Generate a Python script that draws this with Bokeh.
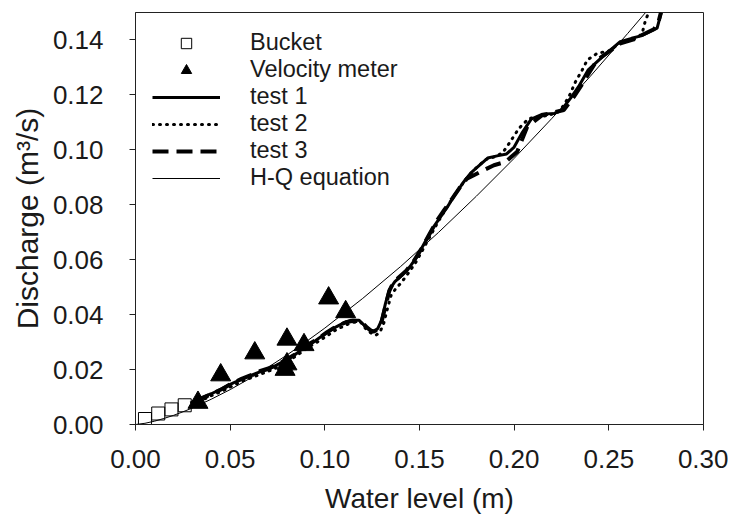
from bokeh.plotting import figure
from bokeh.models import Legend, LegendItem, FixedTicker, NumeralTickFormatter, Range1d
from bokeh.embed import file_html
from bokeh.resources import INLINE

# ---- data ----
bucket_x = [0.005, 0.012, 0.019, 0.026]
bucket_y = [0.002, 0.004, 0.0055, 0.007]

meter_x = [0.033, 0.045, 0.063, 0.080, 0.079, 0.080, 0.089, 0.102, 0.111]
meter_y = [0.008, 0.018, 0.026, 0.031, 0.020, 0.022, 0.029, 0.046, 0.041]

test1_x = [0.029, 0.034, 0.040, 0.045, 0.050, 0.055, 0.060, 0.065, 0.070, 0.075, 0.080, 0.085,
           0.090, 0.095, 0.100, 0.105, 0.110, 0.114, 0.118, 0.121, 0.124, 0.126, 0.128, 0.130,
           0.132, 0.134, 0.137, 0.141, 0.145, 0.149, 0.153, 0.157, 0.161, 0.165, 0.169, 0.173,
           0.177, 0.181, 0.186, 0.191, 0.196, 0.200, 0.204, 0.209, 0.215, 0.221, 0.225, 0.230,
           0.234, 0.239, 0.246, 0.252, 0.256, 0.262, 0.267, 0.2755, 0.2777]
test1_y = [0.0078, 0.0095, 0.0112, 0.0128, 0.0146, 0.0162, 0.0176, 0.0190, 0.0200, 0.0218, 0.0236, 0.0258,
           0.0285, 0.0305, 0.0330, 0.0352, 0.0370, 0.0380, 0.0380, 0.0360, 0.0342, 0.0337, 0.0350, 0.0380,
           0.0440, 0.0490, 0.0520, 0.0545, 0.0575, 0.0615, 0.0665, 0.0715, 0.0755, 0.0795, 0.0840, 0.0880,
           0.0915, 0.0940, 0.0970, 0.0978, 0.0985, 0.1010, 0.1060, 0.1112, 0.1130, 0.1132, 0.1145, 0.1190,
           0.1230, 0.1290, 0.1335, 0.1370, 0.1394, 0.1406, 0.1415, 0.1443, 0.1500]

test2_x = [0.030, 0.035, 0.040, 0.046, 0.051, 0.056, 0.061, 0.066, 0.071, 0.076, 0.081, 0.086,
           0.091, 0.096, 0.101, 0.106, 0.111, 0.115, 0.119, 0.122, 0.125, 0.127, 0.129, 0.131,
           0.133, 0.135, 0.138, 0.140, 0.144, 0.148, 0.152, 0.156, 0.160, 0.164, 0.168, 0.172,
           0.176, 0.180, 0.185, 0.190, 0.194, 0.197, 0.2025, 0.2077, 0.212, 0.218, 0.224, 0.2289,
           0.2324, 0.2359, 0.2386, 0.2438, 0.2509, 0.2544, 0.2579, 0.2645, 0.2676, 0.2694, 0.2711]
test2_y = [0.0072, 0.0088, 0.0105, 0.0122, 0.0140, 0.0157, 0.0170, 0.0183, 0.0196, 0.0212, 0.0232, 0.0255,
           0.0280, 0.0300, 0.0322, 0.0345, 0.0362, 0.0372, 0.0372, 0.0345, 0.0330, 0.0325, 0.0335, 0.0365,
           0.0420, 0.0470, 0.0500, 0.0513, 0.0550, 0.0590, 0.0640, 0.0690, 0.0740, 0.0785, 0.0830, 0.0870,
           0.0905, 0.0935, 0.0965, 0.0975, 0.0990, 0.1020, 0.1078, 0.1114, 0.1120, 0.1125, 0.1140, 0.1193,
           0.1248, 0.1290, 0.1327, 0.1351, 0.1362, 0.1382, 0.1394, 0.1405, 0.1424, 0.1473, 0.1500]

test3_x = [0.031, 0.036, 0.041, 0.046, 0.051, 0.056, 0.061, 0.066, 0.071, 0.076, 0.081, 0.086,
           0.091, 0.096, 0.101, 0.106, 0.111, 0.115, 0.119, 0.122, 0.125, 0.128, 0.130, 0.132,
           0.134, 0.136, 0.139, 0.143, 0.147, 0.151, 0.155, 0.159, 0.163, 0.167, 0.171, 0.175,
           0.1822, 0.1893, 0.1954, 0.2016, 0.2069, 0.2148, 0.2262, 0.2315, 0.2359, 0.2438, 0.2562,
           0.2632, 0.2667, 0.2738, 0.2760, 0.2775]
test3_y = [0.0080, 0.0098, 0.0114, 0.0130, 0.0150, 0.0166, 0.0180, 0.0195, 0.0206, 0.0222, 0.0242, 0.0262,
           0.0290, 0.0310, 0.0335, 0.0357, 0.0372, 0.0378, 0.0376, 0.0355, 0.0338, 0.0345, 0.0375, 0.0430,
           0.0485, 0.0515, 0.0535, 0.0560, 0.0595, 0.0640, 0.0690, 0.0740, 0.0780, 0.0820, 0.0860, 0.0895,
           0.0920, 0.0944, 0.0956, 0.0993, 0.1084, 0.1126, 0.1145, 0.1193, 0.1239, 0.1327, 0.1388,
           0.1402, 0.1415, 0.1439, 0.1460, 0.1500]

hq_x = [0.0, 0.005, 0.01, 0.015, 0.02, 0.025, 0.03, 0.04, 0.05, 0.06, 0.07, 0.08, 0.09, 0.10,
        0.12, 0.14, 0.16, 0.18, 0.20, 0.22, 0.24, 0.26, 0.2694]
hq_y = [0.0, 0.00044, 0.0012, 0.0022, 0.0033, 0.0046, 0.0060, 0.0092, 0.0127, 0.0166, 0.0208, 0.0253,
        0.0301, 0.0351, 0.0459, 0.0575, 0.0699, 0.0831, 0.0969, 0.1115, 0.1266, 0.1424, 0.1500]

x_ticks = [0.0, 0.05, 0.10, 0.15, 0.20, 0.25, 0.30]
y_ticks = [0.0, 0.02, 0.04, 0.06, 0.08, 0.10, 0.12, 0.14]

FONT = "Liberation Sans"

p = figure(width=728, height=517, output_backend="svg", toolbar_location=None,
           x_range=Range1d(0, 0.30), y_range=Range1d(0, 0.15),
           min_border_left=135, min_border_right=25, min_border_top=12, min_border_bottom=93)
p.background_fill_color = "white"
p.border_fill_color = "white"
p.xgrid.visible = False
p.ygrid.visible = False
p.outline_line_color = "#222222"
p.outline_line_width = 1

for ax, ticks in ((p.xaxis[0], x_ticks), (p.yaxis[0], y_ticks)):
    ax.ticker = FixedTicker(ticks=ticks)
    ax.formatter = NumeralTickFormatter(format="0.00")
    ax.major_tick_out = 6
    ax.major_tick_in = 0
    ax.minor_tick_out = 0
    ax.minor_tick_in = 0
    ax.axis_line_color = "#222222"
    ax.major_tick_line_color = "#222222"
    ax.major_label_text_font = FONT
    ax.major_label_text_font_size = "26px"
    ax.major_label_text_color = "#1a1a1a"
    ax.axis_label_text_font = FONT
    ax.axis_label_text_font_style = "normal"
    ax.axis_label_text_color = "#1a1a1a"

p.xaxis.axis_label_text_font_size = "28px"
p.yaxis.axis_label_text_font_size = "30px"
p.xaxis.major_label_standoff = 19
p.yaxis.major_label_standoff = 26
p.xaxis.axis_label_standoff = 12
p.yaxis.axis_label_standoff = 6
p.xaxis.axis_label = "Water level (m)"
p.yaxis.axis_label = "Discharge (m³/s)"

r_hq = p.line(hq_x, hq_y, line_color="black", line_width=1)
r_t1 = p.line(test1_x, test1_y, line_color="black", line_width=3, line_join="round")
r_t2 = p.line(test2_x, test2_y, line_color="black", line_width=3, line_dash="1 6", line_cap="round")
r_t3 = p.line(test3_x, test3_y, line_color="black", line_width=4, line_dash="16 8")
r_b = p.scatter(bucket_x, bucket_y, marker="square", size=13, line_color="black", line_width=1,
                fill_alpha=0)
r_m = p.scatter(meter_x, meter_y, marker="triangle", size=20, line_color="black",
                fill_color="black")

legend = Legend(items=[
    LegendItem(label="Bucket", renderers=[r_b]),
    LegendItem(label="Velocity meter", renderers=[r_m]),
    LegendItem(label="test 1", renderers=[r_t1]),
    LegendItem(label="test 2", renderers=[r_t2]),
    LegendItem(label="test 3", renderers=[r_t3]),
    LegendItem(label="H-Q equation", renderers=[r_hq]),
], location="top_left")
legend.margin = 0
legend.padding = 17
legend.spacing = 0
legend.glyph_width = 68
legend.glyph_height = 26
legend.label_height = 26
legend.label_standoff = 30
legend.label_text_font = FONT
legend.label_text_font_size = "23.5px"
legend.label_text_color = "#1a1a1a"
legend.border_line_alpha = 0
legend.background_fill_alpha = 0
p.add_layout(legend)

open("out.html", "w").write(file_html(p, INLINE))
